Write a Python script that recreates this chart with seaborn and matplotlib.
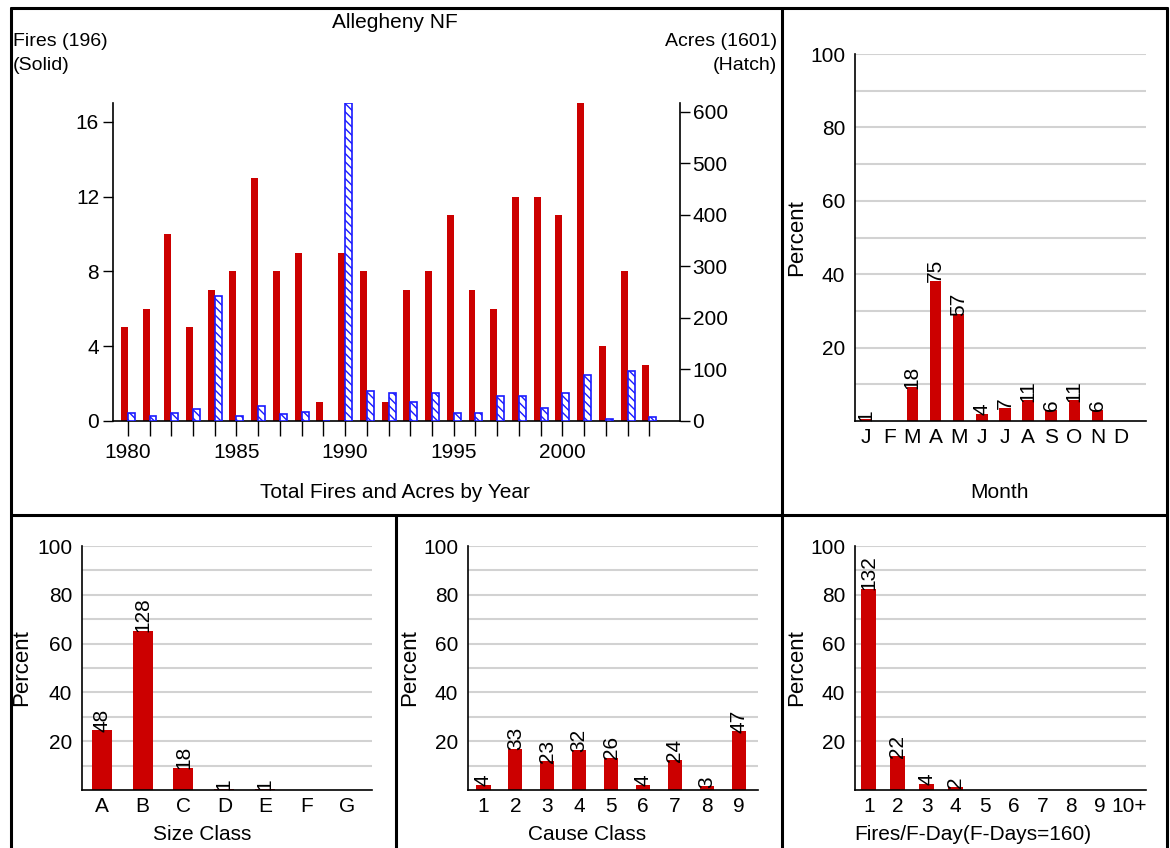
import matplotlib
matplotlib.use('Agg')
import matplotlib.pyplot as plt
import seaborn as sns
from matplotlib.lines import Line2D

# ---- data ----
years = [1980, 1981, 1982, 1983, 1984, 1985, 1986, 1987, 1988, 1989, 1990, 1991, 1992,
         1993, 1994, 1995, 1996, 1997, 1998, 1999, 2000, 2001, 2002, 2003, 2004]
fires = [5, 6, 10, 5, 7, 8, 13, 8, 9, 1, 9, 8, 1, 7, 8, 11, 7, 6, 12, 12, 11, 17, 4, 8, 3]
acres = [16, 9, 16, 24, 242, 9, 30, 13, 18, 0, 617, 59, 54, 37, 54, 15, 15, 49, 49, 26,
         54, 90, 3, 97, 7]

months = ['J', 'F', 'M', 'A', 'M', 'J', 'J', 'A', 'S', 'O', 'N', 'D']
month_counts = [1, 0, 18, 75, 57, 4, 7, 11, 6, 11, 6, 0]

size_classes = ['A', 'B', 'C', 'D', 'E', 'F', 'G']
size_counts = [48, 128, 18, 1, 1, 0, 0]

cause_classes = ['1', '2', '3', '4', '5', '6', '7', '8', '9']
cause_counts = [4, 33, 23, 32, 26, 4, 24, 3, 47]

fday_classes = ['1', '2', '3', '4', '5', '6', '7', '8', '9', '10+']
fday_counts = [132, 22, 4, 2, 0, 0, 0, 0, 0, 0]
fdays_total = 160

total_fires = sum(fires)
total_acres = 1601

RED = '#cc0000'
BLUE = '#1a1aff'
GRID = '#d2d2d2'
W, H = 1170, 848
FS = 15

sns.set_theme(style='white')
plt.rcParams['font.family'] = ['Liberation Sans', 'DejaVu Sans']
plt.rcParams['hatch.linewidth'] = 1.0
plt.rcParams['axes.linewidth'] = 1.2
for k in ['text.color', 'axes.labelcolor', 'xtick.color', 'ytick.color', 'axes.edgecolor']:
    plt.rcParams[k] = 'black'


def box(x0, y0, x1, y1):
    # pixel rectangle (top-left origin) -> figure fraction rect
    return [x0 / W, 1 - y1 / H, (x1 - x0) / W, (y1 - y0) / H]


def ftext(x, y, s, **kw):
    kw.setdefault('fontsize', FS)
    fig.text(x / W, 1 - y / H, s, **kw)


fig = plt.figure(figsize=(W / 100, H / 100), dpi=100)

# ---- fires and acres by year ----
ax = fig.add_axes(box(113, 103, 680, 421))
sns.barplot(x=[y - 0.16 for y in years], y=fires, native_scale=True, color=RED,
            saturation=1, width=0.32, linewidth=0, errorbar=None, ax=ax)
ax2 = ax.twinx()
sns.barplot(x=[y + 0.16 for y in years], y=acres, native_scale=True, color='white',
            saturation=1, width=0.32, errorbar=None, ax=ax2)
for p in ax2.patches:
    p.set_facecolor('white')
    p.set_edgecolor(BLUE)
    p.set_linewidth(1.2)
    p.set_hatch('\\\\\\\\')

ax.set_xlim(1979.32, 2005.41)
ax.set_ylim(0, 17)
ax2.set_ylim(0, 617)
ax.set_xticks(years)
ax.set_xticklabels([str(y) if y % 5 == 0 else '' for y in years], fontsize=FS)
ax.set_yticks([0, 4, 8, 12, 16])
ax.set_yticklabels(['0', '4', '8', '12', '16'], fontsize=FS)
ax2.set_yticks([0, 100, 200, 300, 400, 500, 600])
ax2.set_yticklabels(['0', '100', '200', '300', '400', '500', '600'], fontsize=FS)
ax.tick_params(axis='x', direction='out', length=11, width=1, pad=5, color='black', bottom=True)
ax.tick_params(axis='y', direction='out', length=7, width=1, pad=3, color='black', left=True)
ax2.tick_params(axis='y', direction='out', length=7, width=1, pad=2, color='black', right=True)
ax.set_xlabel('')
ax.set_ylabel('')
ax2.set_ylabel('')
for s in ['top', 'right']:
    ax.spines[s].set_visible(False)
for s in ['top', 'left', 'bottom']:
    ax2.spines[s].set_visible(False)
for a in (ax, ax2):
    for s in a.spines.values():
        s.set_color('black')
    a.patch.set_alpha(0)

ftext(395, 22, 'Allegheny NF', ha='center', va='center')
ftext(13, 42, f'Fires ({total_fires})', ha='left', va='center', fontsize=14)
ftext(13, 66, '(Solid)', ha='left', va='center', fontsize=14)
ftext(777, 42, f'Acres ({total_acres})', ha='right', va='center', fontsize=14)
ftext(777, 66, '(Hatch)', ha='right', va='center', fontsize=14)
ftext(395, 493, 'Total Fires and Acres by Year', ha='center', va='center')


# ---- percent panels ----
def pct_panel(rect, cats, counts, total, width, xmax, ylab_x, xlab, xlab_pos):
    a = fig.add_axes(box(*rect))
    pct = [100 * c / total for c in counts]
    sns.barplot(x=list(range(len(cats))), y=pct, color=RED, saturation=1, width=width,
                linewidth=0, errorbar=None, ax=a)
    a.bar_label(a.containers[0], labels=[str(c) if c else '' for c in counts],
                rotation=90, padding=-1, fontsize=FS)
    a.set_xlim(-0.48, xmax)
    a.set_ylim(0, 100)
    a.set_xticks(range(len(cats)))
    a.set_xticklabels(cats, fontsize=FS)
    a.set_yticks([20, 40, 60, 80, 100])
    a.set_yticklabels(['20', '40', '60', '80', '100'], fontsize=FS)
    a.set_yticks([10, 30, 50, 70, 90], minor=True)
    a.yaxis.grid(True, which='both', color=GRID, linewidth=1.5)
    a.set_axisbelow(True)
    a.tick_params(axis='both', which='both', length=0)
    a.tick_params(axis='x', pad=5)
    a.tick_params(axis='y', pad=7)
    a.set_xlabel('')
    a.set_ylabel('')
    for s in ['top', 'right']:
        a.spines[s].set_visible(False)
    for s in ['left', 'bottom']:
        a.spines[s].set_color('black')
    ftext(ylab_x, (rect[1] + rect[3]) / 2, 'Percent', rotation=90, ha='center', va='center',
          fontsize=16)
    ftext(xlab_pos[0], xlab_pos[1], xlab, ha='center', va='center')
    return a


pct_panel((855, 54, 1146, 421), months, month_counts, total_fires, 0.5, 12.1,
          797, 'Month', (1000, 493))
pct_panel((82, 546, 372, 790), size_classes, size_counts, total_fires, 0.49, 6.61,
          22, 'Size Class', (202, 835))
pct_panel((468, 546, 758, 790), cause_classes, cause_counts, total_fires, 0.45, 8.6,
          410, 'Cause Class', (587, 835))
pct_panel((855, 546, 1146, 790), fday_classes, fday_counts, fdays_total, 0.52, 9.58,
          797, f'Fires/F-Day(F-Days={fdays_total})', (973, 835))

# ---- panel frames ----
frames = [((11, 8), (1167, 8)), ((11, 8), (11, 848)), ((1167, 8), (1167, 848)),
          ((782, 8), (782, 848)), ((11, 515), (1167, 515)), ((396, 515), (396, 848))]
for (x0, y0), (x1, y1) in frames:
    fig.add_artist(Line2D([x0 / W, x1 / W], [1 - y0 / H, 1 - y1 / H],
                          transform=fig.transFigure, color='black', linewidth=2.2))

fig.savefig('out.png', dpi=100, facecolor='white')
